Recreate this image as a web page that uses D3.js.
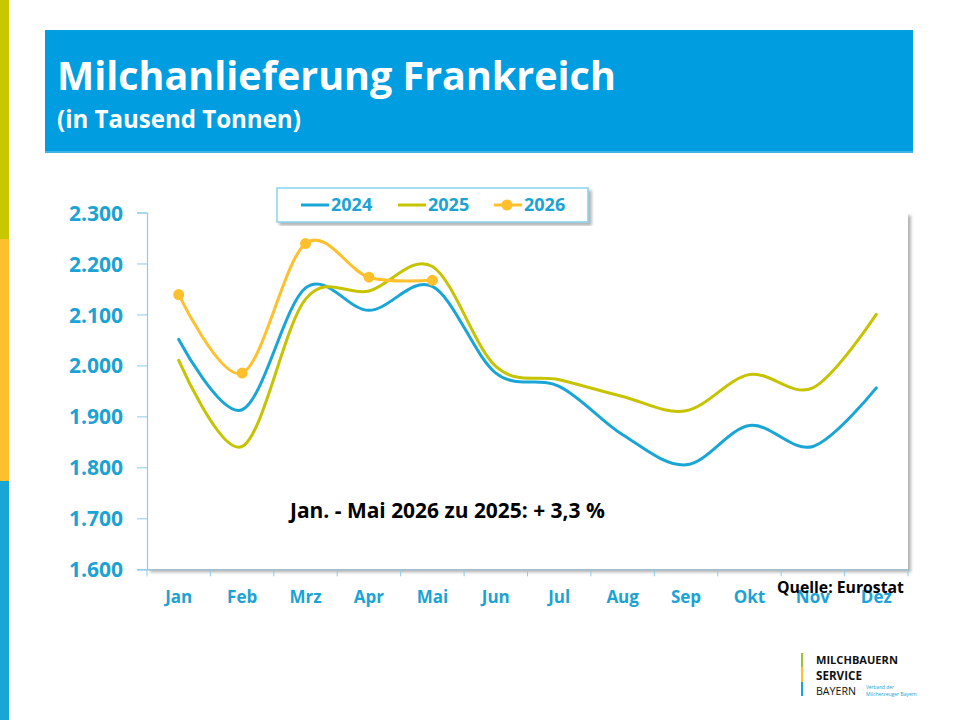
<!DOCTYPE html>
<html>
<head>
<meta charset="utf-8">
<script src="https://cdn.jsdelivr.net/npm/d3@7"></script>
<style>
  html, body { margin: 0; padding: 0; background: #fff; }
  svg { display: block; font-family: "Open Sans", "Noto Sans", sans-serif; }
</style>
</head>
<body>
<svg id="chart" width="960" height="720"></svg>
<script>
// ---- data ----
const months = ["Jan","Feb","Mrz","Apr","Mai","Jun","Jul","Aug","Sep","Okt","Nov","Dez"];
const values2024 = [2051, 1913, 2152, 2108, 2155, 1985, 1959, 1864, 1805, 1882, 1841, 1956];
const values2025 = [2010, 1841, 2130, 2146, 2194, 1998, 1972, 1939, 1911, 1982, 1956, 2100];
const values2026 = [2139, 1985, 2239, 2173, 2167];
const yTicks = [1600, 1700, 1800, 1900, 2000, 2100, 2200, 2300];
const seriesNames = ["2024", "2025", "2026"];

const colors = { "2024": "#19a6d6", "2025": "#c6c300", "2026": "#fec02c" };
const labelBlue = "#1aa3d4";

const svg = d3.select("#chart");
const defs = svg.append("defs");
const sh = defs.append("filter").attr("id", "shadow").attr("x", "-5%").attr("y", "-5%").attr("width", "110%").attr("height", "115%");
sh.append("feDropShadow").attr("dx", 3).attr("dy", 3).attr("stdDeviation", 1.5).attr("flood-color", "#777").attr("flood-opacity", 0.55);

function fit(sel, target) {
  const node = sel.node();
  const fs = parseFloat(sel.attr("font-size"));
  const w = node.getComputedTextLength();
  if (w > 0) sel.attr("font-size", fs * target / w);
  return sel;
}

// ---- left colour strip ----
svg.append("rect").attr("x", 0).attr("y", 0).attr("width", 9).attr("height", 239).attr("fill", "#c8c800");
svg.append("rect").attr("x", 0).attr("y", 239).attr("width", 9).attr("height", 242).attr("fill", "#fec12e");
svg.append("rect").attr("x", 0).attr("y", 481).attr("width", 9).attr("height", 239).attr("fill", "#19a6d6");

// ---- title banner ----
svg.append("rect").attr("x", 45).attr("y", 30).attr("width", 868).attr("height", 123).attr("fill", "#009ee0");
svg.append("rect").attr("x", 45).attr("y", 151).attr("width", 868).attr("height", 2).attr("fill", "#3db5ea");
fit(svg.append("text").attr("x", 57).attr("y", 90).attr("fill", "#fff").attr("font-weight", 700)
  .attr("font-size", 42).text("Milchanlieferung Frankreich"), 559);
fit(svg.append("text").attr("x", 57).attr("y", 128).attr("fill", "#fff").attr("font-weight", 700)
  .attr("font-size", 26).text("(in Tausend Tonnen)"), 244);

// ---- scales ----
const x = d3.scaleBand().domain(months).range([147, 908]).padding(0);
const y = d3.scaleLinear().domain([1600, 2300]).range([569.3, 212.5]);
const cx = m => x(m) + x.bandwidth() / 2;

// plot area
svg.append("rect").attr("x", 147).attr("y", y(2300)).attr("width", 908 - 147).attr("height", y(1600) - y(2300))
  .attr("fill", "#fff").attr("filter", "url(#shadow)");

// y axis
const yAxis = svg.append("g").attr("transform", "translate(147,0)")
  .call(d3.axisLeft(y).tickValues(yTicks).tickSize(10).tickPadding(14)
    .tickFormat(d => String(d).replace(/^(\d)(\d{3})$/, "$1.$2")));
yAxis.select(".domain").attr("stroke", "#8fcbe6").attr("stroke-width", 1.2);
yAxis.selectAll(".tick line").attr("stroke", "#8fcbe6");
yAxis.selectAll(".tick text").attr("fill", labelBlue).attr("font-size", 21).attr("font-weight", 700)
  .attr("font-family", "'Open Sans', sans-serif").attr("dy", "0.36em");

// x axis
const xAxis = svg.append("g").attr("transform", `translate(0,${y(1600)})`)
  .call(d3.axisBottom(x).tickSize(0).tickPadding(22));
xAxis.select(".domain").attr("stroke", "#a9bfcc").attr("stroke-width", 1.5);
xAxis.selectAll(".tick text").attr("fill", labelBlue).attr("font-size", 17).attr("font-weight", 700)
  .attr("font-family", "'Open Sans', sans-serif");
// boundary tick marks
const bounds = months.map(m => x(m)).concat([908]);
svg.append("g").selectAll("line").data(bounds).join("line")
  .attr("x1", d => d).attr("x2", d => d).attr("y1", y(1600)).attr("y2", y(1600) + 7)
  .attr("stroke", "#8fcbe6").attr("stroke-width", 1);

// ---- lines ----
const line = d3.line().x(d => cx(d.m)).y(d => y(d.v)).curve(d3.curveCardinal.tension(0));
const series = [
  { name: "2024", vals: values2024 },
  { name: "2025", vals: values2025 },
  { name: "2026", vals: values2026 }
];
series.forEach(s => {
  const pts = s.vals.map((v, i) => ({ m: months[i], v }));
  svg.append("path").datum(pts).attr("d", line).attr("fill", "none")
    .attr("stroke", colors[s.name]).attr("stroke-width", 3).attr("stroke-linecap", "round");
  if (s.name === "2026") {
    svg.append("g").selectAll("circle").data(pts).join("circle")
      .attr("cx", d => cx(d.m)).attr("cy", d => y(d.v)).attr("r", 5.5).attr("fill", colors[s.name]);
  }
});

// ---- legend ----
const lg = svg.append("g");
lg.append("rect").attr("x", 277).attr("y", 188).attr("width", 311).attr("height", 34)
  .attr("fill", "#fff").attr("stroke", "#86d3f0").attr("stroke-width", 1.5).attr("filter", "url(#shadow)");
const legendX = [301, 398, 494];
seriesNames.forEach((n, i) => {
  const lx = legendX[i];
  lg.append("line").attr("x1", lx).attr("x2", lx + 28).attr("y1", 205).attr("y2", 205)
    .attr("stroke", colors[n]).attr("stroke-width", 3);
  if (n === "2026") lg.append("circle").attr("cx", lx + 13).attr("cy", 205).attr("r", 5.5).attr("fill", colors[n]);
  lg.append("text").attr("x", lx + 30).attr("y", 211).attr("fill", labelBlue).attr("font-weight", 700)
    .attr("font-size", 18).text(n);
});

// ---- annotations ----
fit(svg.append("text").attr("x", 290).attr("y", 518).attr("fill", "#000").attr("font-weight", 700)
  .attr("font-size", 19).text("Jan. - Mai 2026 zu 2025: + 3,3 %"), 315);
fit(svg.append("text").attr("x", 777).attr("y", 593).attr("fill", "#000").attr("font-weight", 700)
  .attr("font-size", 15).text("Quelle: Eurostat"), 127);

// ---- logo ----
const logo = svg.append("g");
logo.append("rect").attr("x", 801).attr("y", 653).attr("width", 2.2).attr("height", 14).attr("fill", "#9dc33b");
logo.append("rect").attr("x", 801).attr("y", 667).attr("width", 2.2).attr("height", 15).attr("fill", "#fec12e");
logo.append("rect").attr("x", 801).attr("y", 682).attr("width", 2.2).attr("height", 14).attr("fill", "#19a6d6");
fit(logo.append("text").attr("x", 816).attr("y", 664).attr("fill", "#111").attr("font-weight", 700)
  .attr("font-size", 13).text("MILCHBAUERN"), 82);
fit(logo.append("text").attr("x", 816).attr("y", 680).attr("fill", "#111").attr("font-weight", 700)
  .attr("font-size", 13).text("SERVICE"), 46);
fit(logo.append("text").attr("x", 816).attr("y", 695).attr("fill", "#111").attr("font-weight", 400)
  .attr("font-size", 13).text("BAYERN"), 40);
fit(logo.append("text").attr("x", 866).attr("y", 689).attr("fill", "#1aa3d4")
  .attr("font-size", 5).text("Verband der"), 28);
fit(logo.append("text").attr("x", 866).attr("y", 696).attr("fill", "#1aa3d4")
  .attr("font-size", 5).text("Milcherzeuger Bayern"), 51);
</script>
</body>
</html>
